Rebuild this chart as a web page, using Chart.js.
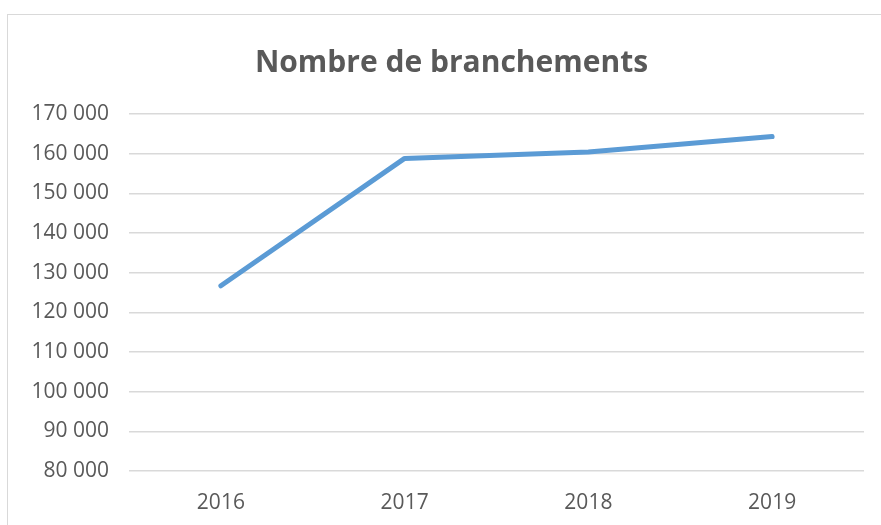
<!DOCTYPE html>
<html>
<head>
<meta charset="utf-8">
<script src="https://cdn.jsdelivr.net/npm/chart.js@4"></script>
<style>
  body { margin: 0; background: #fff; overflow: hidden; }
  .frame {
    position: absolute; left: 7px; top: 14px;
    width: 890px; height: 520px;
    border: 1px solid #d9d9d9; background: #fff;
  }
</style>
</head>
<body>
<div class="frame"><canvas id="chart" width="887" height="510"></canvas></div>
<script>
// Données
const annees = ['2016', '2017', '2018', '2019'];
const branchements = [126700, 158800, 160400, 164300];

const titre = 'Nombre de branchements';
const yMin = 80000;
const yMax = 170000;
const yPas = 10000;

const fmt = v => String(v).replace(/\B(?=(\d{3})+(?!\d))/g, ' ');

const ctx = document.getElementById('chart').getContext('2d');
new Chart(ctx, {
    type: 'line',
    data: {
        labels: annees,
        datasets: [{
            label: titre,
            data: branchements,
            borderColor: '#5b9bd5',
            borderWidth: 5,
            borderCapStyle: 'round',
            borderJoinStyle: 'round',
            pointRadius: 0,
            tension: 0,
            fill: false
        }]
    },
    options: {
        responsive: false,
        animation: false,
        layout: { padding: 0 },
        plugins: {
            legend: { display: false },
            tooltip: { enabled: false },
            title: {
                display: true,
                text: titre,
                color: '#595959',
                font: { family: 'Open Sans', size: 30, weight: 'bold' },
                padding: { top: 30, bottom: 33 }
            }
        },
        scales: {
            x: {
                offset: true,
                grid: { display: false, drawTicks: false },
                border: { display: false },
                ticks: { color: '#595959', font: { family: 'Open Sans', size: 21 }, padding: 19 },
                afterFit: s => { s.height = 54; }
            },
            y: {
                min: yMin,
                max: yMax,
                grid: { color: '#d9d9d9', lineWidth: 1.5, drawTicks: false },
                border: { display: false },
                ticks: {
                    stepSize: yPas,
                    color: '#595959',
                    font: { family: 'Open Sans', size: 21 },
                    padding: 20,
                    callback: v => fmt(v)
                },
                afterFit: s => { s.width = 121; }
            },
            // marge droite vide, pour garder le titre centré sur le cadre
            droite: {
                position: 'right',
                grid: { display: false, drawTicks: false },
                border: { display: false },
                ticks: { display: false },
                afterFit: s => { s.width = 31; }
            }
        }
    }
});
</script>
</body>
</html>
